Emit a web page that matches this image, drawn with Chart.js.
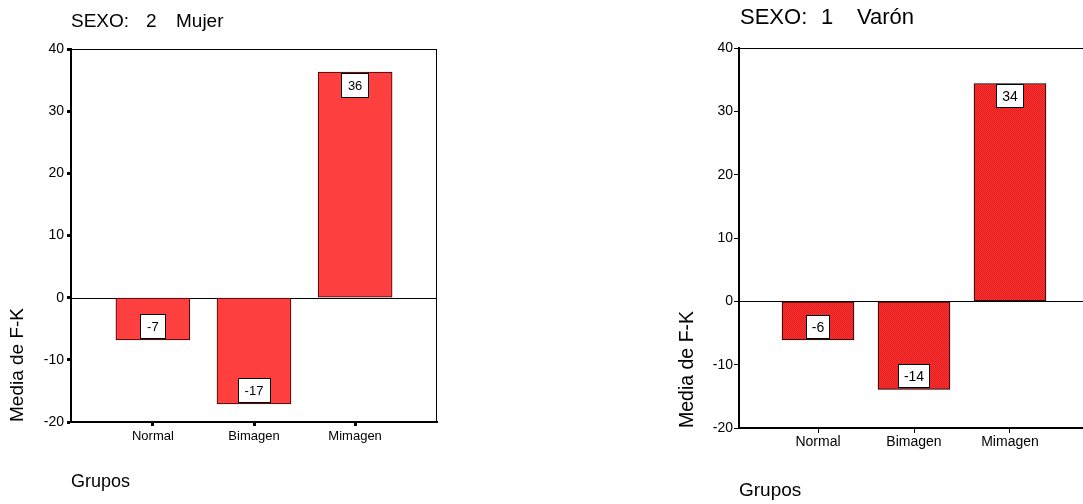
<!DOCTYPE html>
<html lang="es">
<head>
  <meta charset="UTF-8">
  <title>Media de F-K por grupos</title>
  <script src="https://cdn.jsdelivr.net/npm/chart.js"></script>
  <style>
    body {
      margin: 0;
      width: 1083px;
      height: 504px;
      overflow: hidden;
      position: relative;
      background: #fff;
      font-family: "Liberation Sans", Arial, sans-serif;
      color: #000;
    }
    .panel {
      position: absolute;
      top: 0;
      height: 504px;
    }
    .titulo {
      position: absolute;
      white-space: nowrap;
      line-height: 1;
    }
  </style>
</head>
<body>
  <div class="panel" style="left:0;width:450px"><canvas id="chartMujer"></canvas></div>
  <div class="panel" style="left:640px;width:460px"><canvas id="chartVaron"></canvas></div>

  <!-- títulos de cada panel -->
  <span class="titulo" style="left:71px;top:11px;font-size:19px">SEXO:</span>
  <span class="titulo" style="left:146px;top:11px;font-size:19px">2</span>
  <span class="titulo" style="left:176px;top:11px;font-size:19px">Mujer</span>
  <span class="titulo" style="left:740px;top:6px;font-size:22px">SEXO:</span>
  <span class="titulo" style="left:821px;top:6px;font-size:22px">1</span>
  <span class="titulo" style="left:857px;top:6px;font-size:22px">Varón</span>

  <script>
    // Datos
    const grupos = ['Normal', 'Bimagen', 'Mimagen'];
    const mediaMujer = [-6.8, -17.1, 36.3];
    const mediaVaron = [-6.1, -13.9, 34.4];
    const yMin = -20;
    const yMax = 40;
    const yPaso = 10;

    const fuente = '"Liberation Sans", Arial, sans-serif';

    // Trama punteada para el relleno de las barras
    function trama(c1, c2) {
      const p = document.createElement('canvas');
      p.width = 2;
      p.height = 2;
      const g = p.getContext('2d');
      g.fillStyle = c1;
      g.fillRect(0, 0, 2, 2);
      g.fillStyle = c2;
      g.fillRect(0, 0, 1, 1);
      g.fillRect(1, 1, 1, 1);
      return g.createPattern(p, 'repeat');
    }

    // Marco superior/derecho y línea del cero
    const marco = {
      id: 'marco',
      beforeDatasetsDraw(chart) {
        const { ctx, chartArea: a, scales: { y } } = chart;
        const y0 = Math.round(y.getPixelForValue(0)) + 0.5;
        ctx.save();
        ctx.strokeStyle = '#000';
        ctx.lineWidth = 1;
        ctx.beginPath();
        ctx.moveTo(a.left, a.top + 0.5);
        ctx.lineTo(a.right, a.top + 0.5);
        ctx.moveTo(a.right - 0.5, a.top);
        ctx.lineTo(a.right - 0.5, a.bottom);
        ctx.moveTo(a.left, y0);
        ctx.lineTo(a.right, y0);
        ctx.stroke();
        ctx.restore();
      }
    };

    // Cajitas blancas con el valor redondeado
    const cajas = {
      id: 'cajas',
      afterDatasetsDraw(chart, args, opts) {
        const { ctx } = chart;
        const meta = chart.getDatasetMeta(0);
        ctx.save();
        ctx.font = opts.fuente + 'px ' + fuente;
        ctx.textAlign = 'center';
        ctx.textBaseline = 'middle';
        meta.data.forEach((bar, i) => {
          const v = chart.data.datasets[0].data[i].y;
          const txt = String(Math.round(v));
          const w = Math.round(ctx.measureText(txt).width + opts.margen * 2);
          const h = opts.alto;
          const x = Math.round(bar.x - w / 2);
          const y = v >= 0 ? Math.round(bar.y + 1) : Math.round(bar.y - 1 - h);
          ctx.fillStyle = '#fff';
          ctx.fillRect(x, y, w, h);
          ctx.strokeStyle = '#000';
          ctx.lineWidth = 1;
          ctx.strokeRect(x + 0.5, y + 0.5, w - 1, h - 1);
          ctx.fillStyle = '#000';
          ctx.fillText(txt, bar.x, y + h / 2 + 1);
        });
        ctx.restore();
      }
    };

    function dibujar(id, valores, cfg) {
      return new Chart(document.getElementById(id), {
        type: 'bar',
        data: {
          datasets: [{
            data: valores.map((v, i) => ({ x: i + 1, y: v })),
            backgroundColor: trama(cfg.color1, cfg.color2),
            borderColor: cfg.borde,
            borderWidth: 1,
            borderSkipped: false,
            barThickness: cfg.grosor
          }]
        },
        options: {
          responsive: true,
          maintainAspectRatio: false,
          animation: false,
          layout: { padding: { top: cfg.arriba, right: cfg.derecha, left: 0, bottom: 0 } },
          plugins: {
            legend: { display: false },
            tooltip: { enabled: false },
            cajas: { fuente: cfg.fuenteCaja, margen: cfg.margenCaja, alto: cfg.altoCaja }
          },
          scales: {
            x: {
              type: 'linear',
              min: cfg.xMin,
              max: cfg.xMax,
              offset: false,
              afterBuildTicks: s => { s.ticks = grupos.map((g, i) => ({ value: i + 1 })); },
              afterFit: s => { s.height = cfg.altoX; },
              ticks: {
                callback: v => grupos[v - 1],
                color: '#000',
                font: { family: fuente, size: cfg.fuenteX },
                padding: cfg.padX,
                autoSkip: false,
                maxRotation: 0
              },
              grid: { offset: false, drawOnChartArea: false, tickLength: cfg.largoTick, tickWidth: cfg.anchoTick, tickColor: '#000' },
              border: { width: 2, color: '#000' },
              title: {
                display: true,
                text: 'Grupos',
                align: 'start',
                color: '#000',
                font: { family: fuente, size: cfg.fuenteTitulo },
                padding: { top: 0, bottom: cfg.padGrupos }
              }
            },
            y: {
              min: yMin,
              max: yMax,
              afterFit: s => { s.width = cfg.anchoY; },
              ticks: {
                stepSize: yPaso,
                color: '#000',
                font: { family: fuente, size: cfg.fuenteY },
                padding: cfg.padY
              },
              grid: { drawOnChartArea: false, tickLength: cfg.largoTick, tickWidth: cfg.anchoTick, tickColor: '#000' },
              border: { width: 2, color: '#000' },
              title: {
                display: true,
                text: 'Media de F-K',
                align: 'start',
                color: '#000',
                font: { family: fuente, size: cfg.fuenteMedia },
                padding: { top: cfg.padMedia, bottom: 0 }
              }
            }
          }
        },
        plugins: [marco, cajas]
      });
    }

    dibujar('chartMujer', mediaMujer, {
      color1: '#ff4646', color2: '#ff3838', borde: '#300000', grosor: 74,
      arriba: 49, derecha: 13, anchoY: 71, altoX: 82,
      xMin: 0.19, xMax: 3.81,
      fuenteX: 13, fuenteY: 14, padX: 3, padY: 3, largoTick: 4, anchoTick: 3,
      fuenteTitulo: 18, padGrupos: 11, fuenteMedia: 19, padMedia: 6,
      fuenteCaja: 13, margenCaja: 7, altoCaja: 25
    });

    dibujar('chartVaron', mediaVaron, {
      color1: '#ff3030', color2: '#dc2020', borde: '#000', grosor: 72,
      arriba: 48, derecha: 11, anchoY: 99, altoX: 76,
      xMin: 0.177, xMax: 3.823,
      fuenteX: 14, fuenteY: 14, padX: 1, padY: 1, largoTick: 5, anchoTick: 1,
      fuenteTitulo: 19, padGrupos: 2, fuenteMedia: 19.5, padMedia: 36,
      fuenteCaja: 14, margenCaja: 6, altoCaja: 24
    });
  </script>
</body>
</html>
